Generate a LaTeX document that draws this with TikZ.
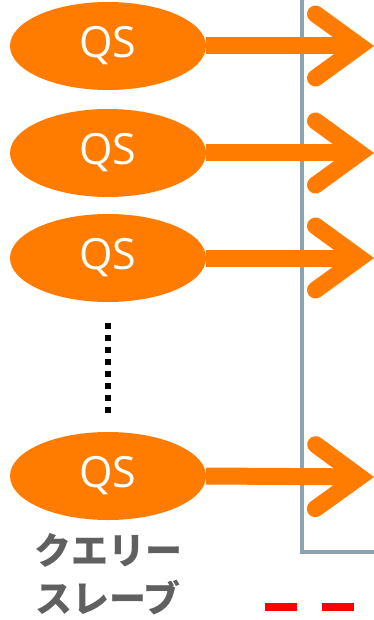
\documentclass[tikz,border=0pt]{standalone}
\usepackage{fontspec}
\setmainfont{Open Sans}
\newfontfamily\jpfont{Noto Sans CJK JP}
\usetikzlibrary{arrows.meta,positioning,shapes.geometric}

\definecolor{qsorange}{RGB}{255,124,0}
\definecolor{framegray}{RGB}{140,163,176}
\definecolor{labelgray}{RGB}{96,96,96}

\begin{document}
\begin{tikzpicture}[x=1pt,y=-1pt]
\tikzstyle{qs}=[ellipse,fill=qsorange,text=white,minimum width=196pt,minimum height=88pt,inner sep=0pt,font=\fontsize{43}{43}\selectfont]
\tikzstyle{feed}=[qsorange,line width=17pt,-{Straight Barb[length=44pt,width=64pt,line cap=round,line join=miter]}]
\useasboundingbox (0,0) rectangle (374,620);
% slaves
\node[qs] (qs1) at (108,46) {QS};
\node[qs] (qs2) at (108,153) {QS};
\node[qs] (qs3) at (108,258) {QS};
\node[qs] (qs4) at (108,476) {QS};
% frame edge
\draw[framegray,line width=3.5pt] (302,-5) -- (302,552) -- (380,552);
% arrows
\coordinate (t1) at (374,46);
\coordinate (t2) at (374,153);
\coordinate (t3) at (374,258);
\coordinate (t4) at (374,477);
\draw[feed] (qs1.east) -- (t1);
\draw[feed] (qs2.east) -- (t2);
\draw[feed] (qs3.east) -- (t3);
\draw[feed] (qs4.east) -- (t4);
% dots between
\coordinate (d1) at (108,323);
\coordinate (d2) at (108,413);
\draw[black,line width=6pt,dash pattern=on 6pt off 6pt] (d1) -- (d2);
% label
\node[text=labelgray,font=\jpfont\bfseries\fontsize{37}{48}\selectfont,align=center] (lbl) at (108,574) {クエリー\\スレーブ};
% legend dashes
\coordinate (r1) at (265,607);
\coordinate (r2) at (354,607);
\draw[red,line width=8pt,dash pattern=on 32pt off 25pt] (r1) -- (r2);
\end{tikzpicture}
\end{document}
